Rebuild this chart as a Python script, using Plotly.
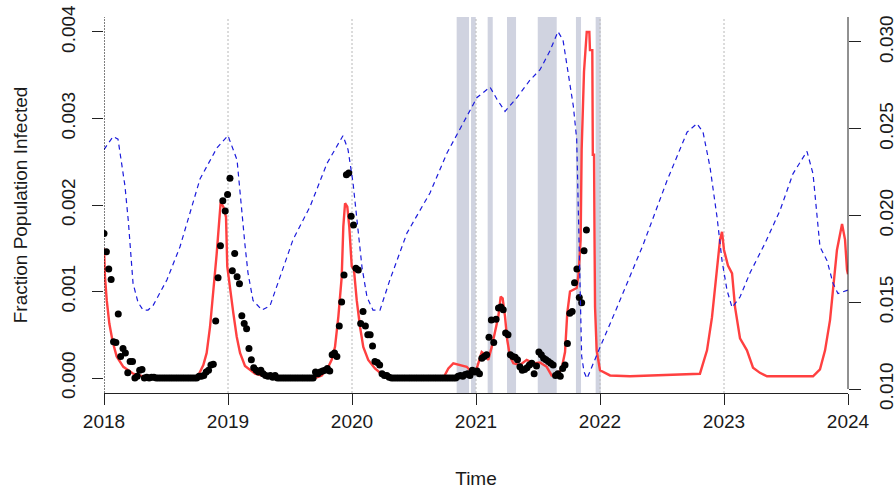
import numpy as np
import plotly.graph_objects as go

# ---------------- data ----------------
# observed weekly fraction infected (black dots), weeks from 2018.0
obs_v = [
    0.00167, 0.00146, 0.00126, 0.00114, 0.00042, 0.00041, 0.00074, 0.00025, 0.00034, 0.00029,
    0.00006, 0.00019, 0.00019, 0.0, 0.00002, 0.00009, 0.00010, 0.0, 0.00001, 0.0,
    0.00001, 0.00001,
    0, 0, 0, 0, 0, 0, 0, 0, 0, 0, 0, 0, 0, 0, 0, 0, 0, 0,
    0.00002, 0.00002, 0.00003, 0.00007, 0.00009, 0.00015, 0.00016, 0.00066, 0.00116, 0.00153,
    0.00205, 0.00193, 0.00212, 0.00231, 0.00124, 0.00144, 0.00117, 0.00109, 0.00072, 0.00063,
    0.00057, 0.00034, 0.00021, 0.00012, 0.00009, 0.00007, 0.00009, 0.00005, 0.00003, 0.00002,
    0.00003, 0.00001, 0.00003,
    0, 0, 0, 0, 0, 0, 0, 0, 0, 0, 0, 0, 0, 0, 0, 0,
    0.00007, 0.00005, 0.00007, 0.00008, 0.00009, 0.00011, 0.00008, 0.00027, 0.00029, 0.00025,
    0.00060, 0.00088, 0.00119, 0.00235, 0.00237, 0.00187, 0.00177, 0.00127, 0.00125, 0.00063,
    0.00077, 0.00060, 0.00050, 0.00050, 0.00037, 0.00019, 0.00018, 0.00015, 0.00005, 0.00003,
    0.00003, 0.00001,
    0, 0, 0, 0, 0, 0, 0, 0, 0, 0, 0, 0, 0, 0, 0, 0, 0, 0, 0, 0, 0, 0, 0, 0, 0, 0, 0, 0,
    0.00002, 0.00003, 0.00002, 0.00004, 0.00005, 0.00003, 0.00009, 0.00007, 0.00008, 0.00005,
    0.00023, 0.00025, 0.00027, 0.00047, 0.00067, 0.00041, 0.00068, 0.00081, 0.00082, 0.00079,
    0.00052, 0.00050, 0.00027, 0.00025, 0.00024, 0.00021, 0.00013, 0.00009, 0.00010, 0.00012,
    0.00015, 0.00017, 0.00005, 0.00014, 0.00030, 0.00027, 0.00023, 0.00021, 0.00019, 0.00017,
    0.00015, 0.00003, 0.00005, 0.00002, 0.00011, 0.00015, 0.00040, 0.00075, 0.00077, 0.00110,
    0.00126, 0.00093, 0.00087, 0.00147, 0.00171,
]
obs_start = 2018.0
week = 7 / 365.25

# model fraction infected (red line)
model_t = [
    2018.000, 2018.008, 2018.022, 2018.043, 2018.070, 2018.102, 2018.156, 2018.236, 2018.317, 2018.452,
    2018.694, 2018.760, 2018.801, 2018.828, 2018.855, 2018.881, 2018.909, 2018.930, 2018.941, 2018.962,
    2018.984, 2018.994, 2019.016, 2019.043, 2019.070, 2019.097, 2019.137, 2019.218, 2019.298, 2019.419,
    2019.702, 2019.756, 2019.809, 2019.836, 2019.863, 2019.890, 2019.917, 2019.930, 2019.944, 2019.962,
    2019.978, 2019.990, 2019.998, 2020.016, 2020.038, 2020.065, 2020.091, 2020.131, 2020.185, 2020.252,
    2020.306, 2020.736, 2020.777, 2020.817, 2020.871, 2020.925, 2020.965, 2020.990, 2021.010, 2021.046,
    2021.073, 2021.099, 2021.127, 2021.153, 2021.180, 2021.199, 2021.215, 2021.234, 2021.252, 2021.274,
    2021.301, 2021.355, 2021.409, 2021.462, 2021.516, 2021.570, 2021.610, 2021.651, 2021.691, 2021.718,
    2021.736, 2021.758, 2021.790, 2021.812, 2021.827, 2021.844, 2021.852, 2021.871, 2021.893, 2021.914,
    2021.919, 2021.938, 2021.942, 2021.952, 2021.956, 2021.960, 2021.973, 2022.000, 2022.081, 2022.242,
    2022.806, 2022.863, 2022.903, 2022.944, 2022.968, 2022.984, 2023.000, 2023.032, 2023.065, 2023.089,
    2023.129, 2023.185, 2023.234, 2023.290, 2023.347, 2023.718, 2023.774, 2023.815, 2023.855, 2023.879,
    2023.911, 2023.952, 2023.976, 2023.992, 2024.000,
]
model_v = [
    0.00150, 0.00117, 0.00090, 0.00063, 0.00042, 0.00025, 0.00013, 0.00005, 0.00002, 0.0,
    0.0, 0.00003, 0.00015, 0.00029, 0.00059, 0.00098, 0.00144, 0.00183, 0.00203, 0.00198,
    0.00186, 0.00129, 0.00102, 0.00075, 0.00048, 0.00029, 0.00014, 0.00005, 0.00002, 0.0,
    0.0, 0.00003, 0.00013, 0.00021, 0.00036, 0.00071, 0.00117, 0.00175, 0.00202, 0.00198,
    0.00175, 0.00152, 0.00129, 0.00125, 0.00090, 0.00059, 0.00036, 0.00021, 0.00011, 0.00003,
    0.0, 0.0, 0.00011, 0.00017, 0.00015, 0.00013, 0.00007, 0.00006, 0.00013, 0.00030,
    0.00027, 0.00021, 0.00036, 0.00052, 0.00071, 0.00094, 0.00092, 0.00071, 0.00044, 0.00025,
    0.00017, 0.00015, 0.00021, 0.00017, 0.00018, 0.00013, 0.00003, 0.00003, 0.00011, 0.00030,
    0.00075, 0.00100, 0.00102, 0.00104, 0.00120, 0.00160, 0.00264, 0.00354, 0.00400, 0.00400,
    0.00379, 0.00379, 0.00258, 0.00258, 0.00160, 0.00082, 0.00032, 0.00009, 0.00003, 0.00002,
    0.00005, 0.00032, 0.00070, 0.00125, 0.00160, 0.00169, 0.00148, 0.00130, 0.00121, 0.00082,
    0.00046, 0.00032, 0.00012, 0.00006, 0.00002, 0.00002, 0.00010, 0.00032, 0.00067, 0.00102,
    0.00148, 0.00178, 0.00160, 0.00125, 0.00120,
]

# secondary series (blue dashed, right axis)
sec_t = [
    2018.000, 2018.073, 2018.113, 2018.140, 2018.169, 2018.196, 2018.210, 2018.234, 2018.274, 2018.315,
    2018.355, 2018.395, 2018.508, 2018.613, 2018.774, 2018.911, 2019.000, 2019.073, 2019.137, 2019.161,
    2019.202, 2019.274, 2019.339, 2019.524, 2019.661, 2019.798, 2019.927, 2019.968, 2020.008, 2020.048,
    2020.081, 2020.121, 2020.169, 2020.226, 2020.306, 2020.444, 2020.629, 2020.766, 2020.895, 2021.008,
    2021.113, 2021.169, 2021.234, 2021.331, 2021.435, 2021.516, 2021.597, 2021.661, 2021.702, 2021.758,
    2021.785, 2021.812, 2021.825, 2021.839, 2021.852, 2021.871, 2021.895, 2021.944, 2022.000, 2022.137,
    2022.242, 2022.347, 2022.540, 2022.702, 2022.782, 2022.831, 2022.887, 2022.944, 2022.984, 2023.024,
    2023.065, 2023.129, 2023.210, 2023.331, 2023.452, 2023.556, 2023.669, 2023.718, 2023.774, 2023.831,
    2023.879, 2023.919, 2024.000,
]
sec_v = [
    0.0238, 0.02455, 0.0244, 0.0232, 0.0217, 0.0197, 0.0182, 0.0161, 0.0150, 0.01455,
    0.01455, 0.0148, 0.0163, 0.0182, 0.0221, 0.0239, 0.0246, 0.0232, 0.0183, 0.0167,
    0.0151, 0.01455, 0.0148, 0.0186, 0.0205, 0.0230, 0.0246, 0.0238, 0.0219, 0.0192,
    0.0170, 0.0153, 0.01455, 0.01455, 0.0163, 0.0190, 0.0213, 0.0236, 0.0253, 0.0268,
    0.0274, 0.0267, 0.0260, 0.0268, 0.0278, 0.0284, 0.0295, 0.0306, 0.0301, 0.0276,
    0.0263, 0.0244, 0.0210, 0.0160, 0.0119, 0.0110, 0.0106, 0.0114, 0.0124, 0.0147,
    0.0165, 0.0183, 0.0220, 0.0248, 0.0253, 0.0248, 0.0228, 0.0199, 0.0174, 0.0157,
    0.0147, 0.0153, 0.0167, 0.0184, 0.0203, 0.0224, 0.0237, 0.0224, 0.0182, 0.0174,
    0.0161, 0.0155, 0.0157,
]

# shaded intervention periods
band_start = [2020.844, 2020.960, 2021.094, 2021.250, 2021.498, 2021.806, 2021.965]
band_end = [2020.944, 2020.998, 2021.135, 2021.323, 2021.651, 2021.847, 2022.006]

year_ticks = [2018, 2019, 2020, 2021, 2022, 2023, 2024]
left_ticks = [0.000, 0.001, 0.002, 0.003, 0.004]
right_ticks = [0.010, 0.015, 0.020, 0.025, 0.030]

x_range = [2018, 2024]
y_range = [-0.000173, 0.004173]
y2_range = [0.00977, 0.03144]

# ---------------- figure ----------------
FONT = "Liberation Sans, Arial, sans-serif"
obs_t = obs_start + np.arange(len(obs_v)) * week

fig = go.Figure()
fig.add_trace(go.Scatter(x=model_t, y=model_v, mode="lines",
                         line=dict(color="#ff4040", width=2.4), showlegend=False))
fig.add_trace(go.Scatter(x=obs_t, y=obs_v, mode="markers",
                         marker=dict(color="black", size=7), showlegend=False))
fig.add_trace(go.Scatter(x=sec_t, y=sec_v, mode="lines", yaxis="y2",
                         line=dict(color="#1c1cdc", width=1.2, dash="5px,4px"),
                         showlegend=False))

shapes = []
for a, b in zip(band_start, band_end):
    shapes.append(dict(type="rect", xref="x", yref="paper", x0=a, x1=b, y0=0, y1=1,
                       fillcolor="rgb(208,211,224)", line=dict(width=0), layer="below"))
for yr in year_ticks[1:-1]:
    shapes.append(dict(type="line", xref="x", yref="paper", x0=yr, x1=yr, y0=0, y1=1,
                       line=dict(color="#b8b8b8", width=1, dash="2px,2px"), layer="below"))
shapes.append(dict(type="line", xref="x", yref="paper", x0=year_ticks[0], x1=year_ticks[0],
                   y0=0, y1=1, line=dict(color="black", width=1, dash="2px,1px"), layer="above"))
shapes.append(dict(type="line", xref="paper", yref="y2", x0=1, x1=1,
                   y0=right_ticks[0], y1=y2_range[1], line=dict(color="#222", width=1),
                   layer="above"))

tickfont = dict(family=FONT, size=19, color="#1a1a1a")
fig.update_layout(
    width=896, height=490,
    margin=dict(l=104, r=48, t=17, b=97, autoexpand=False),
    plot_bgcolor="white", paper_bgcolor="white",
    font=dict(family=FONT, size=19, color="#1a1a1a"),
    shapes=shapes,
    xaxis=dict(range=x_range, tickvals=year_ticks, ticks="outside", ticklen=11,
               tickcolor="#222", showline=True, linecolor="#222", linewidth=1,
               showgrid=False, zeroline=False, tickfont=tickfont, automargin=False,
               ticklabelstandoff=0, ticklabeloverflow="allow",
               title=dict(text="Time", font=dict(family=FONT, size=19), standoff=40)),
    yaxis=dict(range=y_range, tickvals=left_ticks, tickformat=".3f", tickangle=-90,
               ticks="outside", ticklen=11, tickcolor="#222", showline=False,
               showgrid=False, zeroline=False, tickfont=tickfont, ticklabelstandoff=9,
               automargin=False, ticklabeloverflow="allow",
               title=dict(text="Fraction Population Infected",
                          font=dict(family=FONT, size=19), standoff=25)),
    yaxis2=dict(range=y2_range, tickvals=right_ticks, tickformat=".3f", tickangle=-90,
                overlaying="y", side="right", ticks="outside", ticklen=12,
                tickcolor="#222", showline=False, showgrid=False, zeroline=False,
                tickfont=tickfont, ticklabelstandoff=9, automargin=False,
                ticklabeloverflow="allow"),
)

# remove the default page margin so the 896x490 figure fills the window exactly
fig.write_html("out.html", config={"displayModeBar": False},
               post_script="document.body.style.margin='0px';")
